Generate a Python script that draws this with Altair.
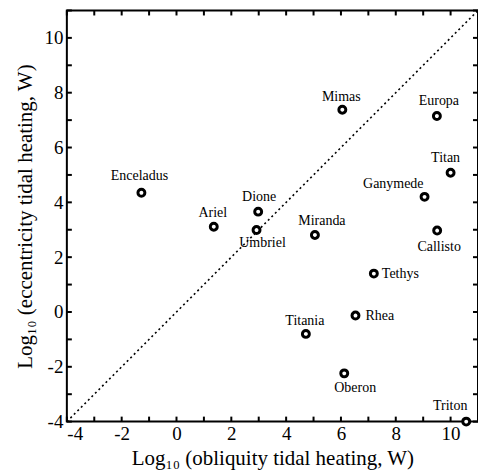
import altair as alt
import pandas as pd

# Log10 tidal heating of icy satellites (W)
moons = ["Enceladus", "Ariel", "Mimas", "Europa", "Titan", "Ganymede", "Dione",
         "Umbriel", "Miranda", "Callisto", "Tethys", "Rhea", "Titania", "Oberon", "Triton"]
obliquity = [-1.28, 1.36, 6.05, 9.5, 10.0, 9.05, 2.98,
             2.92, 5.05, 9.51, 7.2, 6.53, 4.72, 6.12, 10.57]
eccentricity = [4.35, 3.11, 7.38, 7.15, 5.08, 4.2, 3.66,
                2.99, 2.81, 2.97, 1.4, -0.13, -0.8, -2.24, -4.0]

tick_values = list(range(-4, 12))
label_values = list(range(-4, 11, 2))
diag_ends = [-4, 11]

# label placement: (dx, dy, align)
label_style = {
    "Enceladus": (-2, -17, "center"),
    "Ariel": (-1, -14, "center"),
    "Mimas": (-1, -13, "center"),
    "Europa": (2, -15, "center"),
    "Titan": (-5, -15, "center"),
    "Ganymede": (-1, -13, "right"),
    "Dione": (1, -15, "center"),
    "Umbriel": (6, 13, "center"),
    "Miranda": (7, -14, "center"),
    "Callisto": (2, 16, "center"),
    "Tethys": (8, 0, "left"),
    "Rhea": (10, 0, "left"),
    "Titania": (-1, -13, "center"),
    "Oberon": (11, 15, "center"),
    "Triton": (-16, -16, "center"),
}

W, H = 412, 412
SERIF = "Liberation Serif"
PLAIN_LABEL = "'' + datum.value"  # ASCII hyphen for negatives

df = pd.DataFrame({"moon": moons, "obl": obliquity, "ecc": eccentricity})
ticks = pd.DataFrame({"v": tick_values})
diag = pd.DataFrame({"a": diag_ends})

xscale = alt.Scale(domain=[-4, 11], nice=False, zero=False)
yscale = alt.Scale(domain=[-4, 11], nice=False, zero=False)

x_axis = alt.Axis(values=label_values, ticks=False, domain=False, grid=False,
                  labelExpr=PLAIN_LABEL,
                  labelFont=SERIF, labelFontSize=19, labelColor="black", labelPadding=3,
                  title="Log₁₀ (obliquity tidal heating, W)", titleFont=SERIF,
                  titleFontSize=21, titleFontWeight="normal", titleColor="black",
                  titlePadding=4)
y_axis = alt.Axis(values=label_values, ticks=False, domain=False, grid=False,
                  labelExpr=PLAIN_LABEL,
                  labelFont=SERIF, labelFontSize=19, labelColor="black", labelPadding=4,
                  title="Log₁₀ (eccentricity tidal heating, W)", titleFont=SERIF,
                  titleFontSize=21, titleFontWeight="normal", titleColor="black",
                  titlePadding=8)

line = alt.Chart(diag).mark_line(color="black", strokeWidth=1.6, strokeDash=[2, 3]).encode(
    x=alt.X("a:Q", scale=xscale, axis=x_axis),
    y=alt.Y("a:Q", scale=yscale, axis=y_axis),
)

# inward-pointing tick marks on all four sides
tl = 5
xt_bottom = alt.Chart(ticks).mark_rule(color="black", strokeWidth=2).encode(
    x=alt.X("v:Q", scale=xscale), y=alt.value(H), y2=alt.value(H - tl))
xt_top = alt.Chart(ticks).mark_rule(color="black", strokeWidth=2).encode(
    x=alt.X("v:Q", scale=xscale), y=alt.value(0), y2=alt.value(tl))
yt_left = alt.Chart(ticks).mark_rule(color="black", strokeWidth=2).encode(
    y=alt.Y("v:Q", scale=yscale), x=alt.value(0), x2=alt.value(tl))
yt_right = alt.Chart(ticks).mark_rule(color="black", strokeWidth=2).encode(
    y=alt.Y("v:Q", scale=yscale), x=alt.value(W - tl), x2=alt.value(W))

points = alt.Chart(df).mark_point(shape="circle", size=48, stroke="black", strokeWidth=3,
                                  fill="white", fillOpacity=1, opacity=1, clip=False).encode(
    x=alt.X("obl:Q", scale=xscale), y=alt.Y("ecc:Q", scale=yscale))

labels = []
for name, (dx, dy, align) in label_style.items():
    labels.append(
        alt.Chart(df).transform_filter(alt.datum.moon == name)
        .mark_text(font=SERIF, fontSize=14, color="black", dx=dx, dy=dy,
                   align=align, baseline="middle")
        .encode(x=alt.X("obl:Q", scale=xscale), y=alt.Y("ecc:Q", scale=yscale),
                text="moon:N")
    )

chart = alt.layer(line, xt_bottom, xt_top, yt_left, yt_right, points, *labels).properties(
    width=W, height=H,
    autosize=alt.AutoSizeParams(type="none"),
    padding={"left": 67, "top": 10, "right": 0, "bottom": 53},
    background="white",
).configure_view(stroke="black", strokeWidth=2)

chart.save("out.html", embed_options={"renderer": "svg", "actions": False})
